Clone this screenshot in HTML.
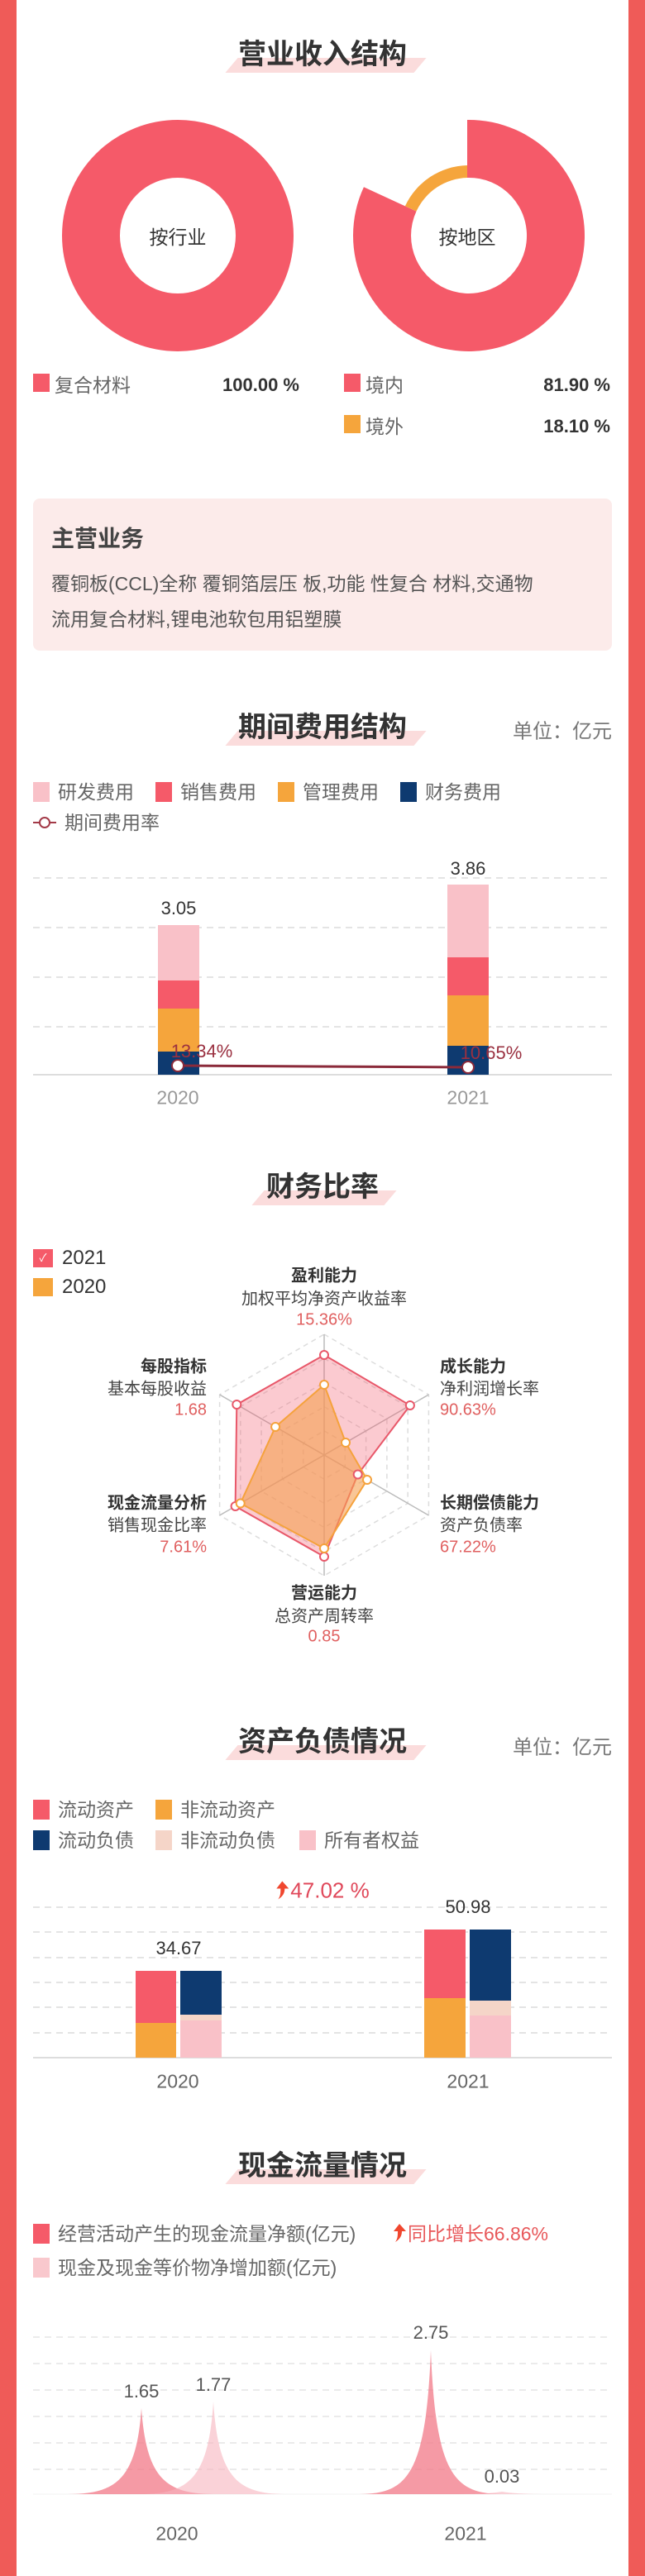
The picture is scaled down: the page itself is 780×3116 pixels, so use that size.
<!DOCTYPE html>
<html><head><meta charset="utf-8"><style>
*{margin:0;padding:0;box-sizing:border-box}
body{width:780px;height:3116px;position:relative;background:#fff;font-family:"Liberation Sans","Noto Sans CJK SC",sans-serif;overflow:hidden;color:#555}
.a{position:absolute;white-space:nowrap}
.bl{position:absolute;top:0;width:20px;height:3116px;background:#ef5b58}
.tt{position:absolute;left:0;width:780px;text-align:center;font-size:34px;font-weight:bold;color:#333;line-height:40px}
.hl{position:absolute;height:18px;background:#fbdcdc;transform:skewX(-40deg)}
.sq{position:absolute;width:20px;height:24px}
.lg{position:absolute;font-size:23px;color:#666;line-height:26px;white-space:nowrap}
.c{transform:translate(-50%,-50%)}
.l{transform:translateY(-50%)}
.r{transform:translate(-100%,-50%)}
.ar{display:inline-block;width:16px;height:22px;vertical-align:-2px;margin-right:2px}
</style></head><body>
<div class="bl" style="left:0"></div><div class="bl" style="left:760px"></div>

<!-- section 1 -->
<div class="hl" style="left:280px;top:70px;width:228px"></div>
<div class="tt" style="top:46px">营业收入结构</div>
<svg class="a" style="left:0;top:0" width="780" height="440">
<circle cx="215" cy="285" r="105" fill="none" stroke="#f55a69" stroke-width="70"/>
<path d="M565 145 A140 140 0 1 1 439.95 226.2 L503.5 255.6 A70 70 0 1 0 565 215 Z" fill="#f55a69"/>
<path d="M565 200 A85 85 0 0 0 489.9 249.3 L503.5 255.6 A70 70 0 0 1 565 215 Z" fill="#f5a53c"/>
</svg>
<div class="a c" style="left:215px;top:285px;font-size:23px;color:#333">按行业</div>
<div class="a c" style="left:565px;top:285px;font-size:23px;color:#333">按地区</div>
<div class="sq" style="left:40px;top:452px;background:#f55a69;height:22px"></div>
<div class="lg l" style="left:66px;top:466px">复合材料</div>
<div class="a r" style="left:362px;top:466px;font-size:22px;font-weight:bold;color:#333">100.00 %</div>
<div class="sq" style="left:416px;top:452px;background:#f55a69;height:22px"></div>
<div class="lg l" style="left:442px;top:466px">境内</div>
<div class="a r" style="left:738px;top:466px;font-size:22px;font-weight:bold;color:#333">81.90 %</div>
<div class="sq" style="left:416px;top:502px;background:#f5a53c;height:22px"></div>
<div class="lg l" style="left:442px;top:516px">境外</div>
<div class="a r" style="left:738px;top:516px;font-size:22px;font-weight:bold;color:#333">18.10 %</div>
<div class="a" style="left:40px;top:603px;width:700px;height:184px;background:#fcebea;border-radius:8px"></div>
<div class="a l" style="left:62px;top:650px;font-size:28px;font-weight:bold;color:#444">主营业务</div>
<div class="a l" style="left:62px;top:704px;font-size:23px;color:#555">覆铜板(CCL)全称 覆铜箔层压 板,功能 性复合 材料,交通物</div>
<div class="a l" style="left:62px;top:747px;font-size:23px;color:#555">流用复合材料,锂电池软包用铝塑膜</div>

<!-- section 2 -->
<div class="hl" style="left:280px;top:884px;width:228px"></div>
<div class="tt" style="top:860px">期间费用结构</div>
<div class="a r" style="left:740px;top:882px;font-size:24px;color:#777">单位：亿元</div>
<div class="sq" style="left:40px;top:946px;background:#f9c1c8"></div><div class="lg l" style="left:70px;top:958px">研发费用</div>
<div class="sq" style="left:188px;top:946px;background:#f55a69"></div><div class="lg l" style="left:218px;top:958px">销售费用</div>
<div class="sq" style="left:336px;top:946px;background:#f5a53c"></div><div class="lg l" style="left:366px;top:958px">管理费用</div>
<div class="sq" style="left:484px;top:946px;background:#0e3a70"></div><div class="lg l" style="left:514px;top:958px">财务费用</div>
<svg class="a" style="left:38px;top:985px" width="32" height="20"><line x1="2" y1="10" x2="30" y2="10" stroke="#a33a48" stroke-width="2"/><circle cx="16" cy="10" r="6" fill="#fff" stroke="#a33a48" stroke-width="2"/></svg>
<div class="lg l" style="left:78px;top:995px">期间费用率</div>
<svg class="a" style="left:0;top:1040px" width="780" height="300">
<g stroke="#e4e4e4" stroke-width="2" stroke-dasharray="8 6"><line x1="40" y1="22" x2="740" y2="22"/><line x1="40" y1="82" x2="740" y2="82"/><line x1="40" y1="142" x2="740" y2="142"/><line x1="40" y1="202" x2="740" y2="202"/></g>
<line x1="40" y1="260" x2="740" y2="260" stroke="#ddd" stroke-width="2"/>
<rect x="191" y="79" width="50" height="67" fill="#f9c1c8"/><rect x="191" y="146" width="50" height="34" fill="#f55a69"/><rect x="191" y="180" width="50" height="52" fill="#f5a53c"/><rect x="191" y="232" width="50" height="28" fill="#0e3a70"/>
<rect x="541" y="30" width="50" height="88" fill="#f9c1c8"/><rect x="541" y="118" width="50" height="46" fill="#f55a69"/><rect x="541" y="164" width="50" height="61" fill="#f5a53c"/><rect x="541" y="225" width="50" height="35" fill="#0e3a70"/>
<line x1="215" y1="249" x2="566" y2="251" stroke="#8b2a3a" stroke-width="3"/>
<circle cx="215" cy="249" r="7" fill="#fff" stroke="#8b2a3a" stroke-width="2"/><circle cx="566" cy="251" r="7" fill="#fff" stroke="#8b2a3a" stroke-width="2"/>
</svg>
<div class="a c" style="left:216px;top:1099px;font-size:22px;color:#333">3.05</div>
<div class="a c" style="left:566px;top:1051px;font-size:22px;color:#333">3.86</div>
<div class="a c" style="left:244px;top:1272px;font-size:22px;color:#9a3040">13.34%</div>
<div class="a c" style="left:594px;top:1274px;font-size:22px;color:#9a3040">10.65%</div>
<div class="a c" style="left:215px;top:1328px;font-size:23px;color:#999">2020</div>
<div class="a c" style="left:566px;top:1328px;font-size:23px;color:#999">2021</div>

<!-- section 3 -->
<div class="hl" style="left:312px;top:1440px;width:160px"></div>
<div class="tt" style="top:1416px">财务比率</div>
<div class="a" style="left:40px;top:1511px;width:24px;height:22px;background:#f55a69;color:#fff;font-size:13px;text-align:center;line-height:22px">✓</div>
<div class="lg l" style="left:75px;top:1522px;font-size:24px;color:#333">2021</div>
<div class="a" style="left:40px;top:1546px;width:24px;height:22px;background:#f5a53c"></div>
<div class="lg l" style="left:75px;top:1557px;font-size:24px;color:#333">2020</div>
<svg class="a" style="left:0;top:1580px" width="780" height="360">
<g transform="translate(392,180)">
<g fill="none" stroke="#ddd" stroke-width="1.5" stroke-dasharray="6 5">
<polygon points="0,-146 126.4,-73 126.4,73 0,146 -126.4,73 -126.4,-73"/>
<polygon points="0,-116.8 101.2,-58.4 101.2,58.4 0,116.8 -101.2,58.4 -101.2,-58.4"/>
<polygon points="0,-87.6 75.9,-43.8 75.9,43.8 0,87.6 -75.9,43.8 -75.9,-43.8"/>
<polygon points="0,-58.4 50.6,-29.2 50.6,29.2 0,58.4 -50.6,29.2 -50.6,-29.2"/>
<polygon points="0,-29.2 25.3,-14.6 25.3,14.6 0,29.2 -25.3,14.6 -25.3,-14.6"/>
</g>
<g stroke="#bbb" stroke-width="1.5"><line x1="0" y1="-146" x2="0" y2="146"/><line x1="126.4" y1="-73" x2="-126.4" y2="73"/><line x1="126.4" y1="73" x2="-126.4" y2="-73"/></g>
<polygon points="0,-121 103.9,-60 40.7,23.5 0,123 -107.4,62 -105.7,-61" fill="rgba(242,90,110,0.32)" stroke="#e8586a" stroke-width="2"/>
<polygon points="0,-85 26,-15 52,30 0,113 -101.3,58.5 -58.9,-34" fill="rgba(245,160,80,0.6)" stroke="#f5a23c" stroke-width="2"/>
<g fill="#fff" stroke="#e8586a" stroke-width="2"><circle cx="0" cy="-121" r="5"/><circle cx="103.9" cy="-60" r="5"/><circle cx="40.7" cy="23.5" r="5"/><circle cx="0" cy="123" r="5"/><circle cx="-107.4" cy="62" r="5"/><circle cx="-105.7" cy="-61" r="5"/></g>
<g fill="#fff" stroke="#f5a23c" stroke-width="2"><circle cx="0" cy="-85" r="5"/><circle cx="26" cy="-15" r="5"/><circle cx="52" cy="30" r="5"/><circle cx="0" cy="113" r="5"/><circle cx="-101.3" cy="58.5" r="5"/><circle cx="-58.9" cy="-34" r="5"/></g>
</g></svg>
<div class="a c" style="left:392px;top:1541px;font-size:20px;font-weight:bold;color:#333">盈利能力</div>
<div class="a c" style="left:392px;top:1569px;font-size:20px;color:#444">加权平均净资产收益率</div>
<div class="a c" style="left:392px;top:1597px;font-size:20px;color:#e06060">15.36%</div>
<div class="a l" style="left:532px;top:1651px;font-size:20px;font-weight:bold;color:#333">成长能力</div>
<div class="a l" style="left:532px;top:1678px;font-size:20px;color:#444">净利润增长率</div>
<div class="a l" style="left:532px;top:1706px;font-size:20px;color:#e06060">90.63%</div>
<div class="a l" style="left:532px;top:1816px;font-size:20px;font-weight:bold;color:#333">长期偿债能力</div>
<div class="a l" style="left:532px;top:1843px;font-size:20px;color:#444">资产负债率</div>
<div class="a l" style="left:532px;top:1872px;font-size:20px;color:#e06060">67.22%</div>
<div class="a c" style="left:392px;top:1925px;font-size:20px;font-weight:bold;color:#333">营运能力</div>
<div class="a c" style="left:392px;top:1953px;font-size:20px;color:#444">总资产周转率</div>
<div class="a c" style="left:392px;top:1980px;font-size:20px;color:#e06060">0.85</div>
<div class="a r" style="left:250px;top:1651px;font-size:20px;font-weight:bold;color:#333">每股指标</div>
<div class="a r" style="left:250px;top:1678px;font-size:20px;color:#444">基本每股收益</div>
<div class="a r" style="left:250px;top:1706px;font-size:20px;color:#e06060">1.68</div>
<div class="a r" style="left:250px;top:1816px;font-size:20px;font-weight:bold;color:#333">现金流量分析</div>
<div class="a r" style="left:250px;top:1843px;font-size:20px;color:#444">销售现金比率</div>
<div class="a r" style="left:250px;top:1872px;font-size:20px;color:#e06060">7.61%</div>

<!-- section 4 -->
<div class="hl" style="left:280px;top:2111px;width:228px"></div>
<div class="tt" style="top:2087px">资产负债情况</div>
<div class="a r" style="left:740px;top:2111px;font-size:24px;color:#777">单位：亿元</div>
<div class="sq" style="left:40px;top:2177px;background:#f55a69"></div><div class="lg l" style="left:70px;top:2189px">流动资产</div>
<div class="sq" style="left:188px;top:2177px;background:#f5a53c"></div><div class="lg l" style="left:218px;top:2189px">非流动资产</div>
<div class="sq" style="left:40px;top:2214px;background:#0e3a70"></div><div class="lg l" style="left:70px;top:2226px">流动负债</div>
<div class="sq" style="left:188px;top:2214px;background:#f5d5c8"></div><div class="lg l" style="left:218px;top:2226px">非流动负债</div>
<div class="sq" style="left:362px;top:2214px;background:#f9c1c8"></div><div class="lg l" style="left:392px;top:2226px">所有者权益</div>
<div class="a c" style="left:390px;top:2287px;font-size:26px;color:#e0485a"><svg class="ar" viewBox="0 0 16 22"><path d="M8 0 L16 9 L11 9 C11 15 8 19 3 22 C6 18 6 14 6 9 L1 9 Z" fill="#f0472f"/></svg>47.02 %</div>
<svg class="a" style="left:0;top:2290px" width="780" height="210">
<g stroke="#e4e4e4" stroke-width="2" stroke-dasharray="8 6"><line x1="40" y1="17" x2="740" y2="17"/><line x1="40" y1="47" x2="740" y2="47"/><line x1="40" y1="78" x2="740" y2="78"/><line x1="40" y1="108" x2="740" y2="108"/><line x1="40" y1="138" x2="740" y2="138"/><line x1="40" y1="169" x2="740" y2="169"/></g>
<line x1="40" y1="199" x2="740" y2="199" stroke="#ddd" stroke-width="2"/>
<rect x="164" y="94" width="49" height="63" fill="#f55a69"/><rect x="164" y="157" width="49" height="42" fill="#f5a53c"/>
<rect x="218" y="94" width="50" height="53" fill="#0e3a70"/><rect x="218" y="147" width="50" height="7" fill="#f5d5c8"/><rect x="218" y="154" width="50" height="45" fill="#f9c1c8"/>
<rect x="513" y="44" width="50" height="83" fill="#f55a69"/><rect x="513" y="127" width="50" height="72" fill="#f5a53c"/>
<rect x="568" y="44" width="50" height="86" fill="#0e3a70"/><rect x="568" y="130" width="50" height="18" fill="#f5d5c8"/><rect x="568" y="148" width="50" height="51" fill="#f9c1c8"/>
</svg>
<div class="a c" style="left:216px;top:2357px;font-size:22px;color:#333">34.67</div>
<div class="a c" style="left:566px;top:2307px;font-size:22px;color:#333">50.98</div>
<div class="a c" style="left:215px;top:2518px;font-size:23px;color:#666">2020</div>
<div class="a c" style="left:566px;top:2518px;font-size:23px;color:#666">2021</div>

<!-- section 5 -->
<div class="hl" style="left:280px;top:2624px;width:228px"></div>
<div class="tt" style="top:2600px">现金流量情况</div>
<div class="sq" style="left:40px;top:2690px;background:#f55a69"></div><div class="lg l" style="left:70px;top:2702px">经营活动产生的现金流量净额(亿元)</div>
<div class="lg l" style="left:475px;top:2702px;color:#e8585a"><svg class="ar" viewBox="0 0 16 22"><path d="M8 0 L16 9 L11 9 C11 15 8 19 3 22 C6 18 6 14 6 9 L1 9 Z" fill="#f0472f"/></svg>同比增长66.86%</div>
<div class="sq" style="left:40px;top:2731px;background:#f9c8cd"></div><div class="lg l" style="left:70px;top:2743px">现金及现金等价物净增加额(亿元)</div>
<svg class="a" style="left:0;top:2800px" width="780" height="230">
<g stroke="#ebebeb" stroke-width="2" stroke-dasharray="8 6"><line x1="40" y1="27" x2="740" y2="27"/><line x1="40" y1="59" x2="740" y2="59"/><line x1="40" y1="91" x2="740" y2="91"/><line x1="40" y1="123" x2="740" y2="123"/><line x1="40" y1="155" x2="740" y2="155"/><line x1="40" y1="187" x2="740" y2="187"/></g>
<line x1="40" y1="217" x2="740" y2="217" stroke="#f3f3f3" stroke-width="1"/>
<path d="M81 217 C140 217 165 200 171 113 C177 200 202 217 261 217 Z" fill="rgba(242,120,135,0.75)"/>
<path d="M168 217 C227 217 252 200 258 105 C264 200 289 217 348 217 Z" fill="rgba(246,180,190,0.6)"/>
<path d="M431 217 C490 217 515 200 521 43 C527 200 552 217 611 217 Z" fill="rgba(242,120,135,0.75)"/>
<path d="M540 217 C590 217 600 215 607 214 C614 215 624 217 670 217 Z" fill="rgba(246,180,190,0.6)"/>
</svg>
<div class="a c" style="left:171px;top:2893px;font-size:22px;color:#555">1.65</div>
<div class="a c" style="left:258px;top:2885px;font-size:22px;color:#555">1.77</div>
<div class="a c" style="left:521px;top:2822px;font-size:22px;color:#555">2.75</div>
<div class="a c" style="left:607px;top:2996px;font-size:22px;color:#555">0.03</div>
<div class="a c" style="left:214px;top:3065px;font-size:23px;color:#666">2020</div>
<div class="a c" style="left:563px;top:3065px;font-size:23px;color:#666">2021</div>
</body></html>
